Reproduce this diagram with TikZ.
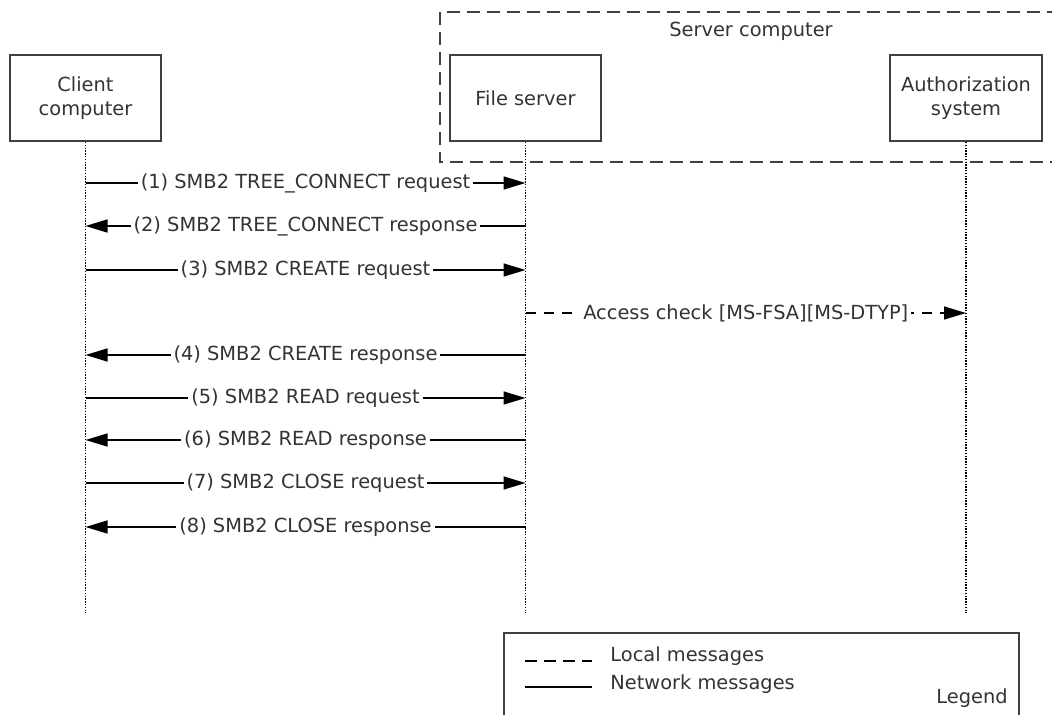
\documentclass[tikz,border=0pt]{standalone}
\usepackage{fontspec}
\setmainfont{DejaVu Sans}
\usepackage{tikz}
\usetikzlibrary{arrows.meta}
\definecolor{ink}{RGB}{51, 51, 51}
\definecolor{edge}{RGB}{64, 64, 64}

\tikzset{
  actor/.style={draw=edge, line width=1pt, minimum width=75.5pt, minimum height=43pt,
    inner sep=0pt, align=center, text=ink},
  lifeline/.style={line width=0.7pt, dash pattern=on 0.7pt off 0.7pt},
  msg/.style={line width=0.75pt, -{Triangle[length=11pt, width=6.5pt]}},
  localmsg/.style={msg, dash pattern=on 5pt off 4pt},
  msgtext/.style={fill=white, text=ink, inner sep=1.5pt},
  framed/.style={draw=edge, line width=1pt}
}

\begin{document}
\begin{tikzpicture}[x=0.5pt, y=-0.5pt, every node/.style={font=\fontsize{9.7pt}{11.8pt}\selectfont}]
  \useasboundingbox (0, 0) rectangle (1052, 715);
  \clip (0, 0) rectangle (1052, 715);

  \draw [framed, dash pattern=on 6.5pt off 3.5pt] (440, 12.5) rectangle (1080, 162.5);
  \node[text=ink] (srvlabel) at (751, 31) {Server computer};

  \node[actor] (cl) at (85.5, 98) {Client\\computer};
  \node[actor] (fs) at (525.5, 98) {File server};
  \node[actor, minimum width=76pt] (az) at (966, 98) {Authorization\\system};

  \coordinate (clend) at (cl |- 0, 613);
  \coordinate (fsend) at (fs |- 0, 613);
  \coordinate (azend) at (az |- 0, 613);
  \draw [lifeline] (cl.south) -- (clend);
  \draw [lifeline] (fs.south) -- (fsend);
  \draw [lifeline] (az.south) -- (azend);

  \draw [msg] (cl |- 0, 183) -- node[msgtext] {(1) SMB2 TREE\_CONNECT request} (fs |- 0, 183);
  \draw [msg] (fs |- 0, 226) -- node[msgtext] {(2) SMB2 TREE\_CONNECT response} (cl |- 0, 226);
  \draw [msg] (cl |- 0, 270) -- node[msgtext] {(3) SMB2 CREATE request} (fs |- 0, 270);
  \draw [localmsg] (fs |- 0, 313) -- node[msgtext] {Access check [MS-FSA][MS-DTYP]} (az |- 0, 313);
  \draw [msg] (fs |- 0, 355) -- node[msgtext] {(4) SMB2 CREATE response} (cl |- 0, 355);
  \draw [msg] (cl |- 0, 398) -- node[msgtext] {(5) SMB2 READ request} (fs |- 0, 398);
  \draw [msg] (fs |- 0, 440) -- node[msgtext] {(6) SMB2 READ response} (cl |- 0, 440);
  \draw [msg] (cl |- 0, 483) -- node[msgtext] {(7) SMB2 CLOSE request} (fs |- 0, 483);
  \draw [msg] (fs |- 0, 527) -- node[msgtext] {(8) SMB2 CLOSE response} (cl |- 0, 527);

  \draw [framed] (504, 633) rectangle (1019, 760);
  \draw [line width=0.75pt, dash pattern=on 6pt off 3.5pt] (525, 661) -- (592, 661);
  \node[anchor=west, text=ink, inner sep=0pt] (localkey) at (610, 656) {Local messages};
  \draw [line width=0.75pt] (525, 687) -- (592, 687);
  \node[anchor=west, text=ink, inner sep=0pt] (netkey) at (610, 684) {Network messages};
  \node[anchor=east, text=ink, inner sep=0pt] (legend) at (1008, 698) {Legend};
\end{tikzpicture}
\end{document}
